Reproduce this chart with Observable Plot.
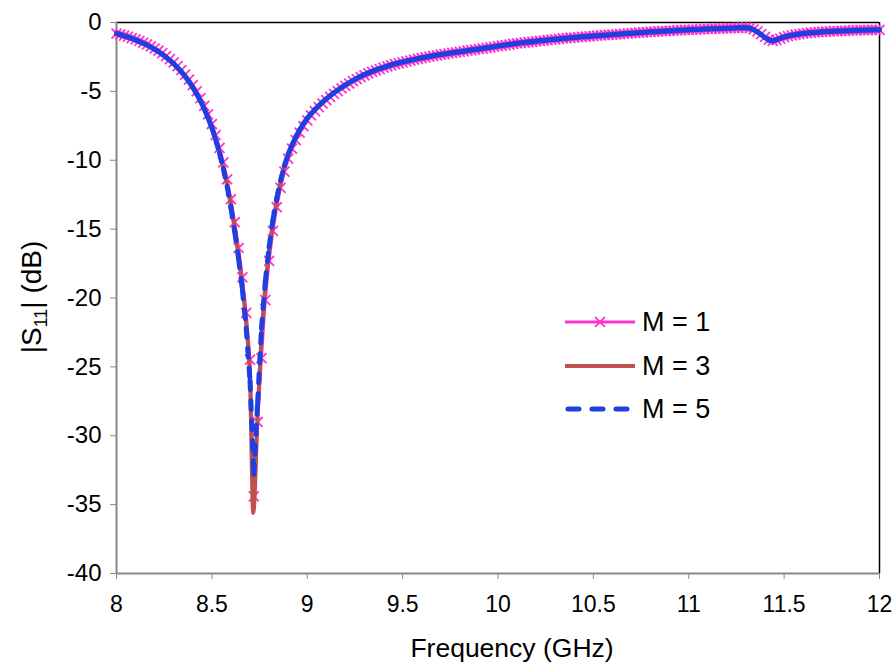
<!DOCTYPE html>
<html><head><meta charset="utf-8">
<script src="https://cdn.jsdelivr.net/npm/d3@7"></script>
<script src="https://cdn.jsdelivr.net/npm/@observablehq/plot@0.6"></script>
<style>
body{margin:0;background:#fff;}
#wrap{position:relative;width:894px;height:667px;font-family:"Liberation Sans",Arial,sans-serif;}
#legend{position:absolute;left:0;top:0;pointer-events:none;}
</style>
</head><body><div id="wrap"></div>
<script>
// Frequency grid of the M = 1 and M = 5 traces (GHz)
const freq = [
8.00,8.02,8.04,8.06,8.08,8.10,8.12,8.14,8.16,8.18,
8.20,8.22,8.24,8.26,8.28,8.30,8.32,8.34,8.36,8.38,
8.40,8.42,8.44,8.46,8.48,8.50,8.52,8.54,8.56,8.58,
8.60,8.62,8.64,8.66,8.68,8.70,8.72,8.74,8.76,8.78,
8.80,8.82,8.84,8.86,8.88,8.90,8.92,8.94,8.96,8.98,
9.00,9.02,9.04,9.06,9.08,9.10,9.12,9.14,9.16,9.18,
9.20,9.22,9.24,9.26,9.28,9.30,9.32,9.34,9.36,9.38,
9.40,9.42,9.44,9.46,9.48,9.50,9.52,9.54,9.56,9.58,
9.60,9.62,9.64,9.66,9.68,9.70,9.72,9.74,9.76,9.78,
9.80,9.82,9.84,9.86,9.88,9.90,9.92,9.94,9.96,9.98,
10.00,10.02,10.04,10.06,10.08,10.10,10.12,10.14,10.16,10.18,
10.20,10.22,10.24,10.26,10.28,10.30,10.32,10.34,10.36,10.38,
10.40,10.42,10.44,10.46,10.48,10.50,10.52,10.54,10.56,10.58,
10.60,10.62,10.64,10.66,10.68,10.70,10.72,10.74,10.76,10.78,
10.80,10.82,10.84,10.86,10.88,10.90,10.92,10.94,10.96,10.98,
11.00,11.02,11.04,11.06,11.08,11.10,11.12,11.14,11.16,11.18,
11.20,11.22,11.24,11.26,11.28,11.30,11.32,11.34,11.36,11.38,
11.40,11.42,11.44,11.46,11.48,11.50,11.52,11.54,11.56,11.58,
11.60,11.62,11.64,11.66,11.68,11.70,11.72,11.74,11.76,11.78,
11.80,11.82,11.84,11.86,11.88,11.90,11.92,11.94,11.96,11.98,
12.00];
// |S11| (dB), M = 1
const m1 = [
-0.80,-0.87,-0.95,-1.03,-1.13,-1.23,-1.34,-1.46,-1.59,-1.73,
-1.89,-2.05,-2.23,-2.44,-2.66,-2.90,-3.17,-3.46,-3.78,-4.15,
-4.55,-5.00,-5.49,-6.05,-6.67,-7.37,-8.18,-9.10,-10.15,-11.38,
-12.83,-14.50,-16.37,-18.50,-21.08,-24.48,-34.40,-29.00,-24.36,-20.16,
-17.30,-15.13,-13.41,-12.00,-10.83,-9.89,-9.16,-8.54,-8.00,-7.53,
-7.11,-6.75,-6.44,-6.15,-5.88,-5.64,-5.40,-5.18,-4.98,-4.79,
-4.60,-4.43,-4.26,-4.11,-3.97,-3.83,-3.70,-3.59,-3.48,-3.38,
-3.28,-3.19,-3.11,-3.03,-2.96,-2.89,-2.82,-2.76,-2.70,-2.64,
-2.58,-2.53,-2.48,-2.43,-2.38,-2.34,-2.29,-2.25,-2.21,-2.17,
-2.13,-2.09,-2.05,-2.01,-1.97,-1.93,-1.89,-1.85,-1.81,-1.76,
-1.72,-1.68,-1.64,-1.60,-1.56,-1.52,-1.49,-1.46,-1.43,-1.40,
-1.37,-1.34,-1.31,-1.28,-1.25,-1.22,-1.19,-1.16,-1.14,-1.11,
-1.09,-1.07,-1.04,-1.02,-1.00,-0.98,-0.96,-0.94,-0.92,-0.90,
-0.88,-0.86,-0.84,-0.82,-0.80,-0.78,-0.76,-0.74,-0.72,-0.70,
-0.68,-0.67,-0.65,-0.63,-0.62,-0.60,-0.59,-0.57,-0.56,-0.54,
-0.53,-0.52,-0.51,-0.50,-0.48,-0.47,-0.46,-0.45,-0.44,-0.43,
-0.42,-0.41,-0.40,-0.39,-0.38,-0.37,-0.40,-0.49,-0.64,-0.84,
-1.05,-1.24,-1.33,-1.28,-1.17,-1.07,-0.99,-0.93,-0.88,-0.84,
-0.80,-0.77,-0.74,-0.72,-0.70,-0.68,-0.66,-0.65,-0.63,-0.62,
-0.61,-0.60,-0.59,-0.58,-0.57,-0.56,-0.55,-0.55,-0.54,-0.53,
-0.53];
// |S11| (dB), M = 5
const m5 = [
-0.80,-0.88,-0.97,-1.06,-1.16,-1.27,-1.39,-1.51,-1.64,-1.79,
-1.95,-2.12,-2.31,-2.52,-2.75,-3.00,-3.28,-3.58,-3.92,-4.30,
-4.72,-5.18,-5.70,-6.28,-6.93,-7.66,-8.52,-9.48,-10.60,-11.90,
-13.45,-15.20,-17.15,-19.40,-22.20,-26.00,-32.80,-27.60,-22.20,-18.80,
-16.30,-14.35,-12.78,-11.48,-10.40,-9.55,-8.90,-8.30,-7.80,-7.35,
-6.95,-6.62,-6.32,-6.04,-5.78,-5.54,-5.31,-5.10,-4.90,-4.71,
-4.53,-4.36,-4.20,-4.05,-3.91,-3.78,-3.66,-3.55,-3.44,-3.34,
-3.25,-3.16,-3.08,-3.00,-2.93,-2.86,-2.80,-2.74,-2.68,-2.62,
-2.57,-2.52,-2.47,-2.42,-2.37,-2.33,-2.28,-2.24,-2.20,-2.16,
-2.12,-2.08,-2.04,-2.00,-1.96,-1.92,-1.88,-1.84,-1.80,-1.75,
-1.71,-1.67,-1.63,-1.59,-1.55,-1.51,-1.48,-1.45,-1.42,-1.39,
-1.36,-1.33,-1.30,-1.27,-1.24,-1.21,-1.19,-1.16,-1.14,-1.11,
-1.09,-1.07,-1.04,-1.02,-1.00,-0.98,-0.96,-0.94,-0.92,-0.90,
-0.88,-0.86,-0.84,-0.82,-0.80,-0.78,-0.76,-0.74,-0.72,-0.70,
-0.68,-0.67,-0.65,-0.63,-0.62,-0.60,-0.59,-0.57,-0.56,-0.54,
-0.53,-0.52,-0.51,-0.50,-0.48,-0.47,-0.46,-0.45,-0.44,-0.43,
-0.42,-0.41,-0.40,-0.39,-0.38,-0.38,-0.42,-0.52,-0.68,-0.88,
-1.10,-1.28,-1.33,-1.25,-1.14,-1.05,-0.98,-0.92,-0.87,-0.83,
-0.80,-0.77,-0.74,-0.72,-0.70,-0.68,-0.66,-0.65,-0.63,-0.62,
-0.61,-0.60,-0.59,-0.58,-0.57,-0.56,-0.55,-0.55,-0.54,-0.53,
-0.53];
// M = 3 trace (GHz, dB)
const freq3 = [8.0,8.1,8.2,8.3,8.4,8.46,8.5,8.54,8.58,8.62,8.64,8.66,8.68,8.70,8.717,8.74,8.76,8.78,8.80,8.84,8.88,8.94,9.0,9.1,9.2,9.3,9.4,9.5,9.6,9.8,10.0,10.2,10.4,10.6,10.8,11.0,11.2,11.3,11.34,11.38,11.42,11.44,11.48,11.54,11.6,11.7,11.8,11.9,12.0];
const m3 = [-0.80,-1.26,-1.93,-2.97,-4.68,-6.22,-7.58,-9.40,-11.80,-15.00,-16.95,-19.15,-21.90,-26.00,-35.60,-28.40,-22.80,-19.20,-16.55,-12.95,-10.50,-8.38,-7.00,-5.57,-4.55,-3.79,-3.26,-2.87,-2.57,-2.12,-1.71,-1.36,-1.09,-0.88,-0.68,-0.53,-0.42,-0.38,-0.52,-0.88,-1.28,-1.33,-1.14,-0.92,-0.80,-0.68,-0.61,-0.56,-0.53];
const xTicks = [8, 8.5, 9, 9.5, 10, 10.5, 11, 11.5, 12];
const yTicks = [0, -5, -10, -15, -20, -25, -30, -35, -40];
const seriesNames = ["M = 1", "M = 3", "M = 5"];
const colors = ["#ff33cc", "#c0504d", "#1f3fe0"];
const FONT = '"Liberation Sans", Arial, sans-serif';

const d1 = freq.map((f, i) => ({f, v: m1[i]}));
const d3s = freq3.map((f, i) => ({f, v: m3[i]}));
// M = 5 drawn segment by segment so the dash pattern restarts at each data point
const d5seg = freq.slice(1).map((f, i) => ({x1: freq[i], y1: m5[i], x2: f, y2: m5[i + 1]}));

const chart = Plot.plot({
  width: 894, height: 667,
  marginLeft: 116, marginRight: 15, marginTop: 22, marginBottom: 94,
  style: {fontFamily: FONT, fontSize: "24px", color: "#000", background: "#fff", overflow: "visible"},
  x: {domain: [8, 12], label: null},
  y: {domain: [-40, 0], label: null},
  marks: [
    Plot.axisX({ticks: xTicks, tickSize: 6, tickPadding: 16, stroke: "#888", tickFormat: d => String(d), label: null, fontSize: 23}),
    Plot.axisY({ticks: yTicks, tickSize: 6, tickPadding: 9, stroke: "#888", tickFormat: d => String(d), label: null, fontSize: 24}),
    Plot.ruleY([0], {stroke: "#000", strokeWidth: 1.5}),
    Plot.ruleX([12], {stroke: "#000", strokeWidth: 1.5}),
    Plot.ruleX([8], {stroke: "#888", strokeWidth: 2}),
    Plot.ruleY([-40], {stroke: "#888", strokeWidth: 2}),
    Plot.line(d1, {x: "f", y: "v", stroke: colors[0], strokeWidth: 3}),
    Plot.dot(d1, {x: "f", y: "v", symbol: "times", r: 4.6, stroke: colors[0], strokeWidth: 1.8}),
    Plot.line(d3s, {x: "f", y: "v", stroke: colors[1], strokeWidth: 4, curve: "monotone-x"}),
    Plot.link(d5seg, {x1: "x1", y1: "y1", x2: "x2", y2: "y2", stroke: colors[2], strokeWidth: 5,
      strokeDasharray: "9,11", strokeLinecap: "round"})
  ]
});
const wrap = document.getElementById("wrap");
wrap.appendChild(chart);

const svg = d3.select(chart);
svg.append("text").attr("x", 512).attr("y", 657).attr("text-anchor", "middle")
  .attr("font-size", 26.5).attr("fill", "#000").text("Frequency (GHz)");
const yl = svg.append("text").attr("transform", "translate(41,297) rotate(-90)")
  .attr("text-anchor", "middle").attr("font-size", 28).attr("fill", "#000");
yl.append("tspan").text("|S");
yl.append("tspan").attr("font-size", 18).attr("dy", 6).text("11");
yl.append("tspan").attr("dy", -6).text("| (dB)");

// Legend
const lg = d3.select(wrap).append("svg").attr("id", "legend").attr("width", 894).attr("height", 667);
const rows = [322, 366, 409];
seriesNames.forEach((name, i) => {
  const g = lg.append("g");
  const line = g.append("line").attr("x1", 565).attr("x2", 635).attr("y1", rows[i]).attr("y2", rows[i])
    .attr("stroke", colors[i]).attr("stroke-width", i === 0 ? 3 : i === 1 ? 4 : 5);
  if (i === 2) line.attr("stroke-dasharray", "11,13").attr("stroke-linecap", "round").attr("x1", 568);
  if (i === 0) {
    g.append("path").attr("d", d3.symbol(d3.symbolTimes, 66)()).attr("transform", `translate(600,${rows[i]})`)
      .attr("fill", "none").attr("stroke", colors[0]).attr("stroke-width", 1.8);
  }
  g.append("text").attr("x", 642).attr("y", rows[i] + 9).attr("font-size", 27)
    .attr("font-family", FONT).attr("fill", "#000").text(name);
});
</script>
</body></html>
